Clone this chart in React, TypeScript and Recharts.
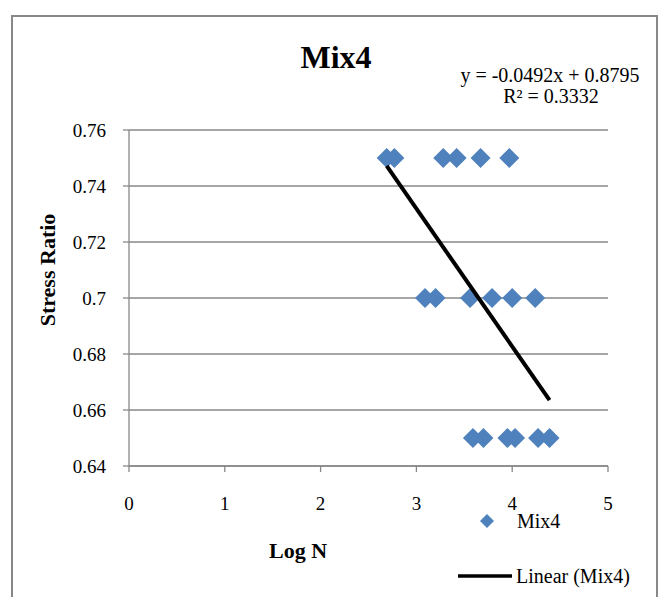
import React from 'react';
import { ScatterChart, Scatter, XAxis, YAxis, CartesianGrid } from 'recharts';

// Log N readings, grouped by stress ratio level
const logN075 = [2.69, 2.77, 3.28, 3.42, 3.67, 3.97];
const logN070 = [3.09, 3.2, 3.56, 3.79, 4.0, 4.24];
const logN065 = [3.59, 3.7, 3.95, 4.03, 4.27, 4.39];
const stressLevels = [0.75, 0.7, 0.65];

const xTicks = [0, 1, 2, 3, 4, 5];
const yTicks = [0.64, 0.66, 0.68, 0.7, 0.72, 0.74, 0.76];

// trendline as printed on the chart
const slope = -0.0492;
const intercept = 0.8795;
const rSquared = '0.3332';

const groups = [logN075, logN070, logN065];
const points = groups.flatMap((xs, i) => xs.map((x) => ({ x, y: stressLevels[i] })));
const xsAll = points.map((p) => p.x);
const minX = Math.min(...xsAll);
const maxX = Math.max(...xsAll);
const trend = [
  { x: minX, y: slope * minX + intercept },
  { x: maxX, y: slope * maxX + intercept },
];

const BLUE = '#4F81BD';
const GRAY = '#888888';
const FONT = '"Times New Roman", "Liberation Serif", serif';

const Diamond = (props: any) => {
  const { cx, cy } = props;
  const r = 10;
  return (
    <polygon
      points={`${cx},${cy - r} ${cx + r},${cy} ${cx},${cy + r} ${cx - r},${cy}`}
      fill={BLUE}
    />
  );
};

const XTick = ({ x, y, payload }: any) => (
  <text x={x} y={y + 14} textAnchor="middle" fontFamily={FONT} fontSize={19} fill="#000">
    {payload.value}
  </text>
);

const YTick = ({ x, y, payload }: any) => (
  <text x={x} y={y + 6.5} textAnchor="end" fontFamily={FONT} fontSize={19} fill="#000">
    {String(payload.value)}
  </text>
);

export default function App() {
  return (
    <div style={{ position: 'absolute', left: 0, top: 0, width: 667, height: 597, overflow: 'hidden', background: '#fff' }}>
      <div style={{ position: 'absolute', left: 11, top: 15, width: 643, height: 640, border: `2px solid ${GRAY}` }} />
      <ScatterChart width={667} height={597} margin={{ top: 130, right: 59, bottom: 101, left: 59 }}>
        <CartesianGrid vertical={false} stroke={GRAY} strokeWidth={1.3} />
        <XAxis
          type="number"
          dataKey="x"
          domain={[0, 5]}
          ticks={xTicks}
          height={30}
          tickSize={6}
          tickMargin={24}
          stroke={GRAY}
          strokeWidth={1.3}
          tick={<XTick />}
        />
        <YAxis
          type="number"
          dataKey="y"
          domain={[0.64, 0.76]}
          ticks={yTicks}
          width={70}
          tickSize={6}
          tickMargin={17}
          stroke={GRAY}
          strokeWidth={1.3}
          tick={<YTick />}
        />
        <Scatter name="Mix4" data={points} shape={<Diamond />} isAnimationActive={false} />
        <Scatter
          name="Linear (Mix4)"
          data={trend}
          line={{ stroke: '#000', strokeWidth: 4 }}
          shape={() => null}
          isAnimationActive={false}
        />
      </ScatterChart>
      <svg width={667} height={597} style={{ position: 'absolute', left: 0, top: 0, pointerEvents: 'none' }}>
        <text x={336} y={68} textAnchor="middle" fontFamily={FONT} fontSize={32} fontWeight="bold">Mix4</text>
        <text x={550} y={82} textAnchor="middle" fontFamily={FONT} fontSize={20}>
          y = {slope}x + {intercept}
        </text>
        <text x={551} y={103} textAnchor="middle" fontFamily={FONT} fontSize={20}>
          R² = {rSquared}
        </text>
        <text x={298} y={558} textAnchor="middle" fontFamily={FONT} fontSize={22} fontWeight="bold">Log N</text>
        <text
          x={55}
          y={270}
          textAnchor="middle"
          fontFamily={FONT}
          fontSize={22}
          fontWeight="bold"
          transform="rotate(-90 55 270)"
        >
          Stress Ratio
        </text>
        {/* legend */}
        <polygon points="487,514 494,521 487,528 480,521" fill={BLUE} />
        <text x={517} y={528} fontFamily={FONT} fontSize={20}>Mix4</text>
        <line x1={458} y1={576} x2={512} y2={576} stroke="#000" strokeWidth={3.5} />
        <text x={516} y={583} fontFamily={FONT} fontSize={20}>Linear (Mix4)</text>
      </svg>
    </div>
  );
}
